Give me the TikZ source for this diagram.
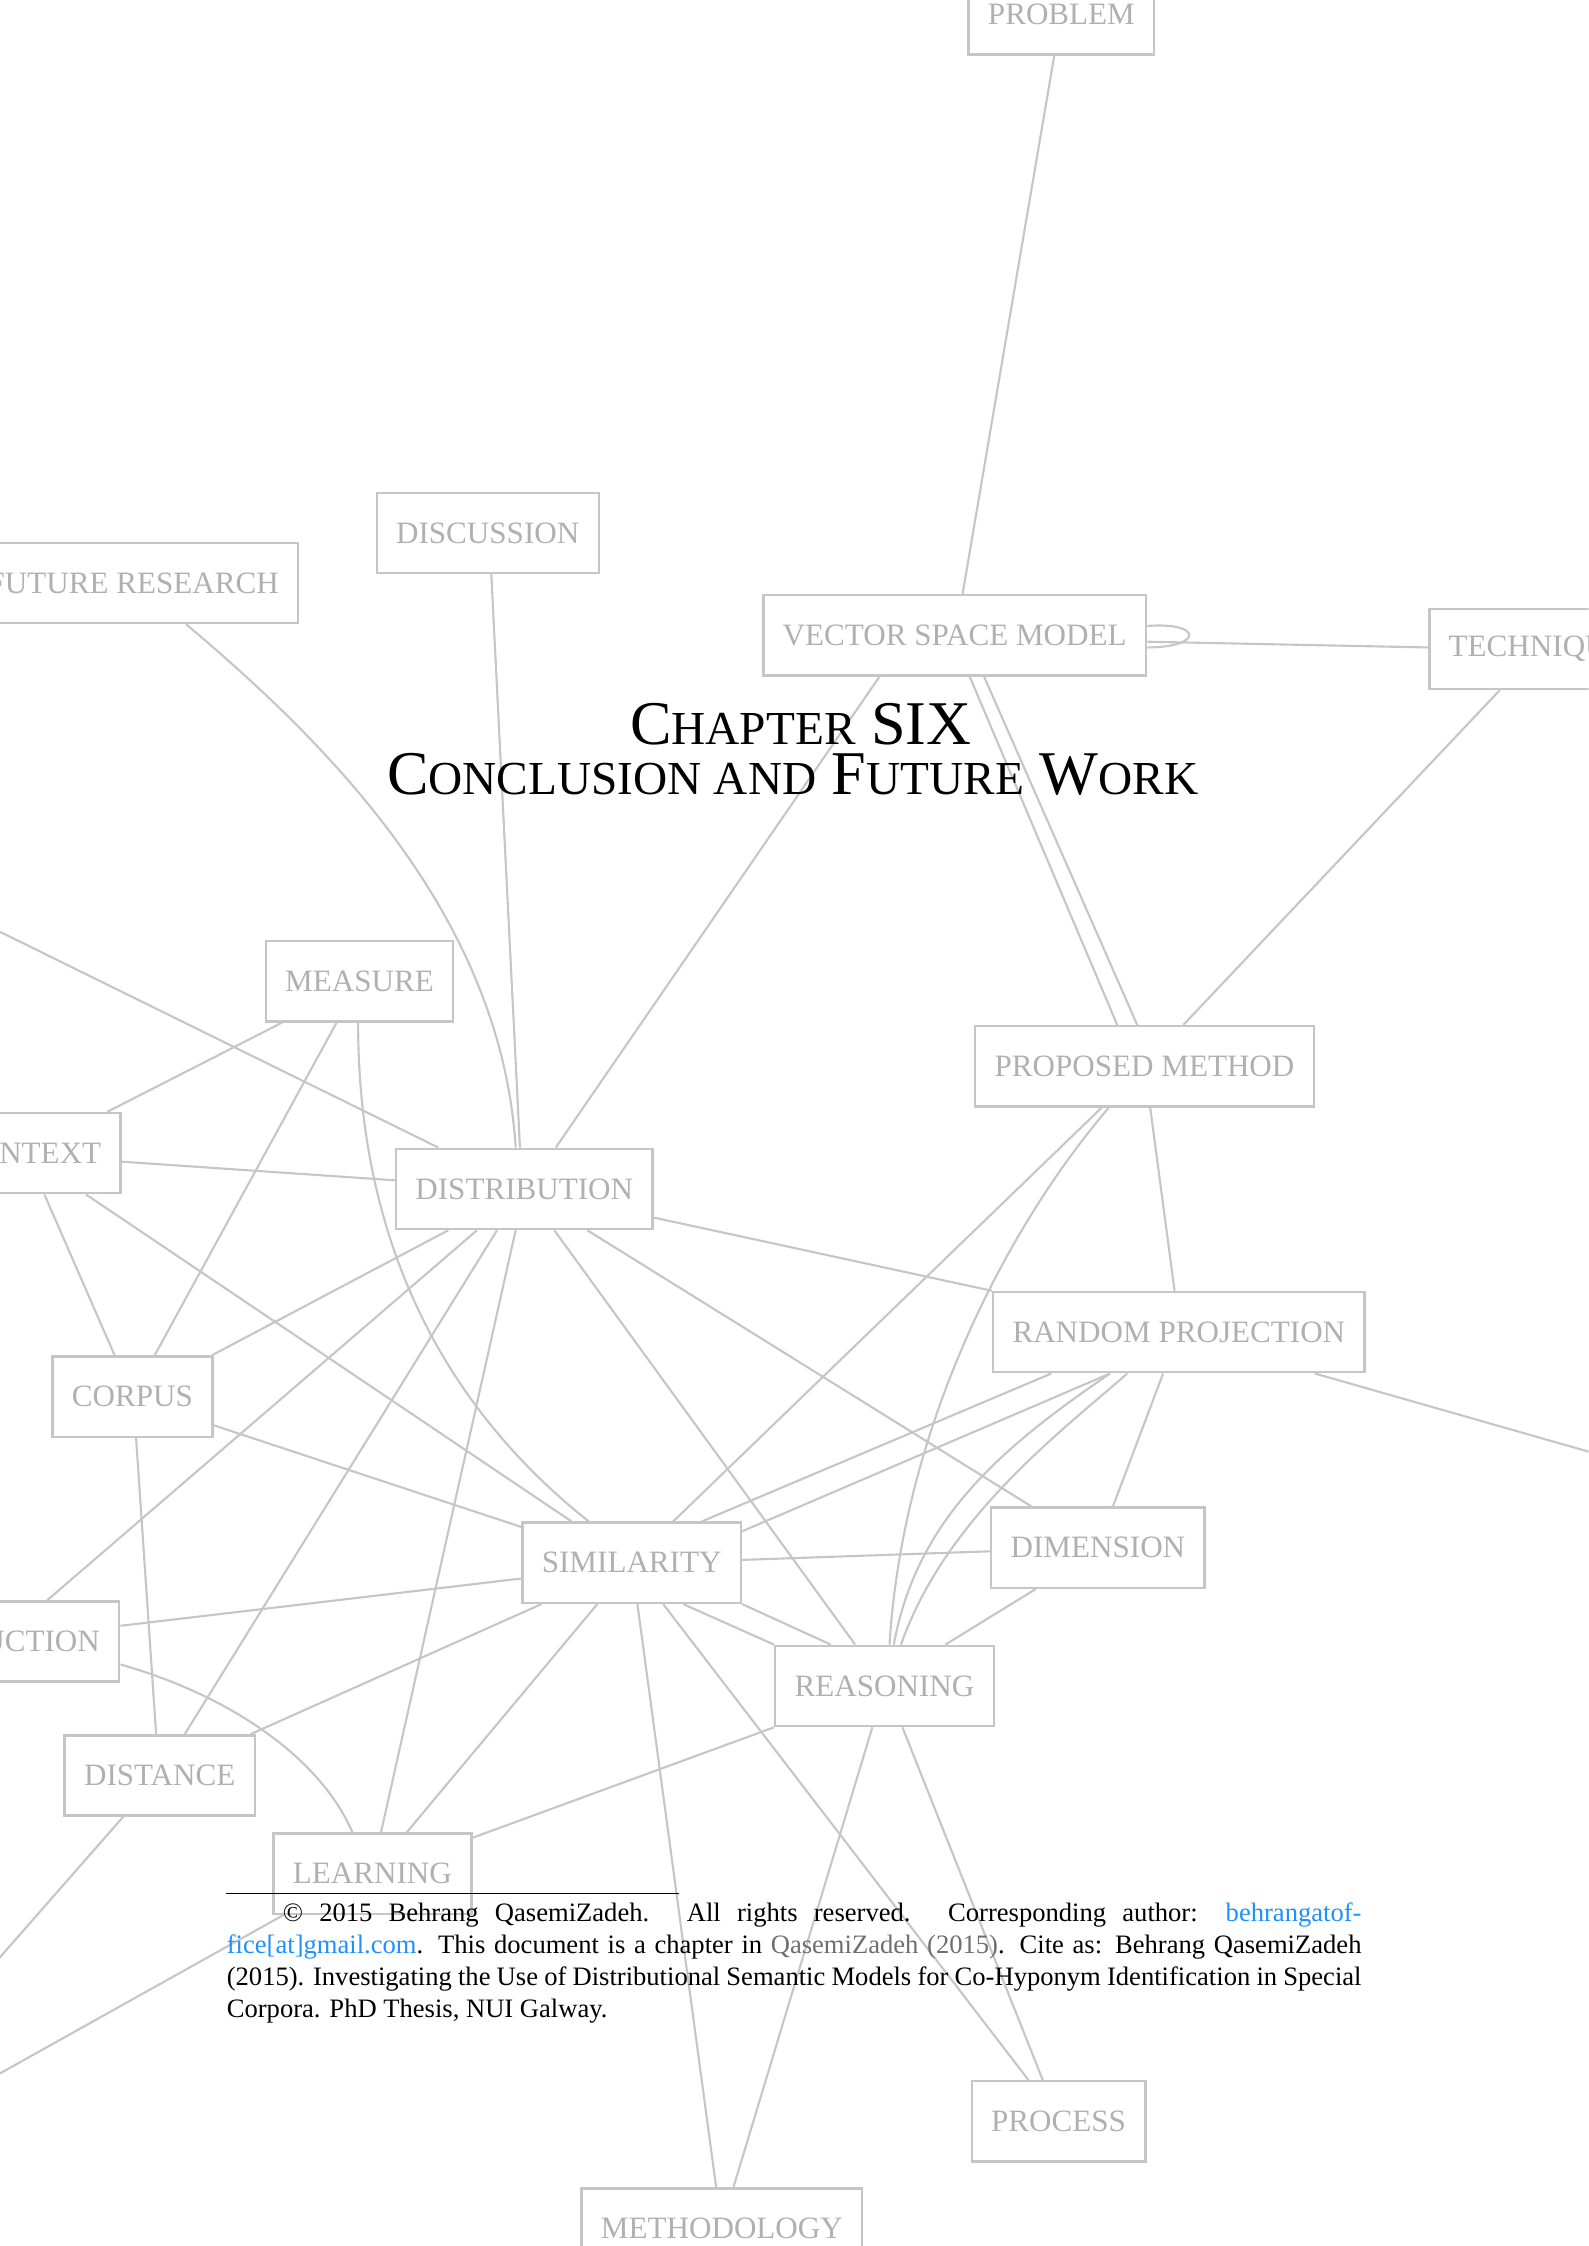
\documentclass[tikz,border=0pt]{standalone}
\usepackage{fontspec}
\setmainfont{Liberation Serif}
\definecolor{edgegray}{RGB}{198,198,198}
\definecolor{kwgray}{RGB}{176,176,176}
\definecolor{linkblue}{RGB}{30,144,255}
\definecolor{citegray}{RGB}{110,110,110}
\newcommand\fakesc[1]{{\fontsize{17.8}{19}\selectfont #1}}

\begin{document}
\begin{tikzpicture}[x=0.18936mm, y=-0.18936mm,
      term/.style={draw=edgegray, line width=0.9pt, text=kwgray,
        font=\fontsize{11.7}{14}\selectfont, inner xsep=7.3pt, minimum height=30.2pt},
      rel/.style={draw=edgegray, line width=0.8pt},
      ttl/.style={anchor=base, inner sep=0pt, font=\fontsize{23.4}{19}\selectfont},
      fn/.style={anchor=north west, inner sep=0pt, text width=150mm, align=justify,
        font=\fontsize{10}{12}\selectfont}
    ]
    \useasboundingbox (0,0) rectangle (1109,1568);
    \clip (0,0) rectangle (1109,1568);
    \node[term] (prob)  at (741,10)       {PROBLEM};
    \node[term] (disc)  at (340.5,372)    {DISCUSSION};
    \node[term] (fut)   at (93,407)       {FUTURE RESEARCH};
    \node[term] (vsm)   at (666.5,443.5)  {VECTOR SPACE MODEL};
    \node[term] (tech)  at (1073.5,453)   {TECHNIQUE};
    \node[term] (meas)  at (251,685)      {MEASURE};
    \node[term] (pm)    at (799,744.5)    {PROPOSED METHOD};
    \node[term] (ctx)   at (20,805)       {CONTEXT};
    \node[term] (dist)  at (366,830)      {DISTRIBUTION};
    \node[term] (rp)    at (823,930)      {RANDOM PROJECTION};
    \node[term] (corp)  at (92.5,975)     {CORPUS};
    \node[term] (sim)   at (441,1091)     {SIMILARITY};
    \node[term] (dim)   at (766.5,1080.5) {DIMENSION};
    \node[term] (red)   at (7,1146)       {REDUCTION};
    \node[term] (dista) at (111.5,1239.5) {DISTANCE};
    \node[term] (reas)  at (617.5,1177)   {REASONING};
    \node[term] (learn) at (260,1308)     {LEARNING};
    \node[term] (proc)  at (739,1481)     {PROCESS};
    \node[term] (meth)  at (504,1556)     {METHODOLOGY};
    \coordinate (offw)  at (-60,621);
    \coordinate (offe)  at (1160,1028);
    \coordinate (offsw) at (-40,1412);
    \coordinate (offs)  at (-60,1481);
    \draw[rel] (prob.south -| 736,0) -- (vsm.north -| 672,0);
    \draw[rel] (vsm.east |- 0,437) .. controls (840,434) and (840,452) .. (vsm.east |- 0,452);
    \draw[rel] (vsm.east |- 0,448) -- (tech.west |- 0,452);
    \draw[rel] (vsm.south -| 614,0) -- (dist.north -| 388,0);
    \draw[rel] (vsm.south -| 677,0) -- (pm.north -| 780,0);
    \draw[rel] (vsm.south -| 687,0) -- (pm.north -| 794,0);
    \draw[rel] (tech.south -| 1047,0) -- (pm.north -| 826,0);
    \draw[rel] (fut.south -| 130,0) .. controls (230,520) and (350,640) .. (dist.north -| 360,0);
    \draw[rel] (disc.south -| 343,0) -- (dist.north -| 363,0);
    \draw[rel] (offw) -- (dist.north -| 306,0);
    \draw[rel] (ctx.east |- 0,811) -- (dist.west |- 0,824);
    \draw[rel] (dist.east |- 0,850) -- (rp.north west);
    \draw[rel] (dist.south -| 313,0) -- (corp.north -| 148,0);
    \draw[rel] (dist.south -| 333,0) -- (red.north -| 33,0);
    \draw[rel] (dist.south -| 347,0) -- (dista.north -| 129,0);
    \draw[rel] (dist.south -| 360,0) -- (learn.north -| 266,0);
    \draw[rel] (dist.south -| 387,0) -- (reas.north -| 597,0);
    \draw[rel] (dist.south -| 410,0) -- (dim.north -| 720,0);
    \draw[rel] (ctx.north -| 75,0) -- (meas.south -| 197,0);
    \draw[rel] (ctx.south -| 31,0) -- (corp.north -| 80,0);
    \draw[rel] (ctx.south -| 60,0) -- (sim.north -| 399,0);
    \draw[rel] (meas.south -| 235,0) -- (corp.north -| 108,0);
    \draw[rel] (meas.south -| 250,0) .. controls (250,880) and (320,990) .. (sim.north -| 411,0);
    \draw[rel] (corp.east |- 0,995) -- (sim.west |- 0,1066);
    \draw[rel] (corp.south -| 95,0) -- (dista.north -| 109,0);
    \draw[rel] (sim.north -| 470,0) -- (pm.south -| 769,0);
    \draw[rel] (sim.north -| 490,0) -- (rp.south -| 734,0);
    \draw[rel] (sim.east |- 0,1069) -- (rp.south -| 775,0);
    \draw[rel] (sim.east |- 0,1089) -- (dim.west |- 0,1083);
    \draw[rel] (sim.west |- 0,1102) -- (red.east |- 0,1135);
    \draw[rel] (sim.south -| 477,0) -- (reas.north west);
    \draw[rel] (sim.south east) -- (reas.north -| 580,0);
    \draw[rel] (sim.south -| 378,0) -- (dista.north -| 175,0);
    \draw[rel] (sim.south -| 417,0) -- (learn.north -| 284,0);
    \draw[rel] (sim.south -| 445,0) -- (meth.north -| 500,0);
    \draw[rel] (sim.south -| 463,0) -- (proc.north -| 718,0);
    \draw[rel] (red.east |- 0,1162) .. controls (165,1185) and (225,1230) .. (learn.north -| 246,0);
    \draw[rel] (dista.south -| 86,0) -- (offsw);
    \draw[rel] (learn.south -| 198,0) -- (offs);
    \draw[rel] (learn.east |- 0,1283) -- (reas.south west);
    \draw[rel] (pm.south -| 774,0) .. controls (700,860) and (630,1000) .. (reas.north -| 621,0);
    \draw[rel] (pm.south -| 803,0) -- (rp.north -| 820,0);
    \draw[rel] (rp.south -| 775,0) .. controls (700,1010) and (640,1060) .. (reas.north -| 624,0);
    \draw[rel] (rp.south -| 787,0) .. controls (740,1000) and (660,1060) .. (reas.north -| 629,0);
    \draw[rel] (rp.south -| 812,0) -- (dim.north -| 777,0);
    \draw[rel] (rp.south -| 918,0) -- (offe);
    \draw[rel] (dim.south -| 723,0) -- (reas.north -| 660,0);
    \draw[rel] (reas.south -| 609,0) -- (meth.north -| 512,0);
    \draw[rel] (reas.south -| 630,0) -- (proc.north -| 728,0);
    \node[ttl] (chap) at (559,520) {C\fakesc{HAPTER} SIX};
    \node[ttl] (name) at (553.5,555) {C\fakesc{ONCLUSION AND} F\fakesc{UTURE} W\fakesc{ORK}};
    \draw[line width=0.4pt] (158,1322) -- (474,1322);
    \node[fn] (foot) at (158,1328) {\hspace*{7.4mm}\textcopyright{} 2015 Behrang QasemiZadeh.
      All rights reserved. Corresponding author: \textcolor{linkblue}{behrangatof-}\linebreak
      \textcolor{linkblue}{fice[at]gmail.com}. This document is a chapter in
      \textcolor{citegray}{QasemiZadeh (2015)}. Cite as: Behrang QasemiZadeh\linebreak
      (2015). Investigating the Use of Distributional Semantic Models for Co-Hyponym
      Identification in Special\linebreak Corpora. PhD Thesis, NUI Galway.};
  \end{tikzpicture}
\end{document}
